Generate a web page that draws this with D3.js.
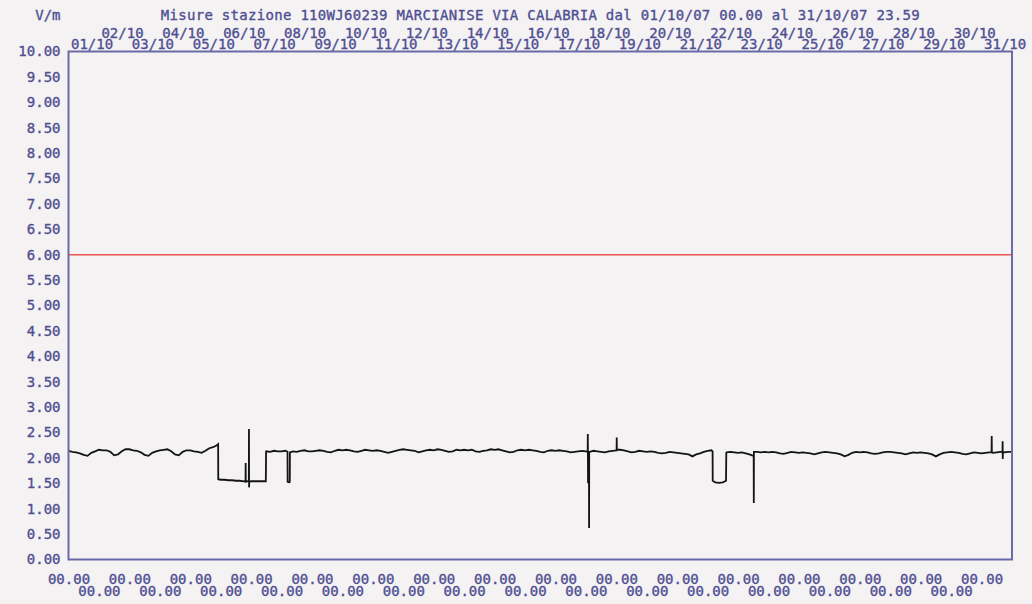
<!DOCTYPE html>
<html><head><meta charset="utf-8">
<script src="https://cdn.jsdelivr.net/npm/d3@7"></script>
<style>html,body{margin:0;padding:0;background:#f4f2f2;} svg{display:block;}</style>
</head><body><svg id="c" width="1032" height="604"></svg>
<script>
const chartTitle = "Misure stazione 110WJ60239 MARCIANISE VIA CALABRIA dal 01/10/07 00.00 al 31/10/07 23.59";
const unitLabel = "V/m";
const dayLabels = ["01/10","02/10","03/10","04/10","05/10","06/10","07/10","08/10","09/10","10/10",
  "11/10","12/10","13/10","14/10","15/10","16/10","17/10","18/10","19/10","20/10",
  "21/10","22/10","23/10","24/10","25/10","26/10","27/10","28/10","29/10","30/10","31/10"];
const hourLabel = "00.00";
const yTicks = [0,0.5,1,1.5,2,2.5,3,3.5,4,4.5,5,5.5,6,6.5,7,7.5,8,8.5,9,9.5,10];
const thresholdValue = 6.0;
const periodHours = 744;
const sampleStepHours = 3;
const sampleValues = [
  2.14,2.12,2.11,2.09,2.06,2.04,2.10,2.13,
  2.16,2.15,2.15,2.12,2.05,2.07,2.13,2.17,
  2.17,2.15,2.14,2.11,2.06,2.04,2.10,2.13,
  2.15,2.16,2.17,2.13,2.07,2.05,2.12,2.15,
  2.15,2.13,2.12,2.10,2.14,2.19,2.21,2.25,
  1.57,1.57,1.56,1.56,1.55,1.55,1.54,1.54,
  1.54,1.54,1.54,1.54,2.13,2.12,2.14,2.13,
  2.13,2.14,1.52,2.13,2.12,2.14,2.15,2.13,
  2.13,2.14,2.15,2.14,2.12,2.11,2.14,2.16,
  2.15,2.16,2.15,2.13,2.12,2.14,2.16,2.15,
  2.14,2.15,2.14,2.12,2.10,2.12,2.14,2.16,
  2.17,2.16,2.15,2.14,2.11,2.13,2.15,2.16,
  2.15,2.17,2.16,2.14,2.12,2.13,2.16,2.15,
  2.16,2.15,2.16,2.13,2.12,2.14,2.15,2.17,
  2.16,2.17,2.15,2.13,2.11,2.12,2.15,2.16,
  2.15,2.16,2.15,2.14,2.12,2.11,2.14,2.15,
  2.14,2.15,2.14,2.13,2.11,2.12,2.13,2.14,
  2.13,2.12,2.14,2.13,2.12,2.11,2.13,2.14,
  2.15,2.16,2.15,2.13,2.11,2.12,2.14,2.13,
  2.12,2.13,2.12,2.10,2.09,2.10,2.12,2.11,
  2.10,2.09,2.08,2.07,2.03,2.07,2.09,2.12,
  2.14,2.15,1.52,1.51,1.52,2.11,2.12,2.11,
  2.10,2.11,2.09,2.07,2.04,2.12,2.11,2.12,
  2.11,2.12,2.11,2.09,2.08,2.10,2.12,2.11,
  2.10,2.11,2.10,2.09,2.07,2.09,2.11,2.12,
  2.11,2.10,2.09,2.07,2.03,2.06,2.10,2.12,
  2.11,2.12,2.11,2.09,2.08,2.09,2.11,2.12,
  2.12,2.11,2.10,2.09,2.07,2.09,2.11,2.10,
  2.11,2.10,2.09,2.07,2.03,2.07,2.10,2.11,
  2.12,2.11,2.10,2.08,2.07,2.09,2.11,2.10,
  2.09,2.10,2.11,2.10,2.11,2.12,2.11,2.12,
  2.12
];
const eventHours = [118,118.1, 139.6,139.7,139.8, 142.2,142.3,142.4,142.5, 155.6,155.8,
  172.7,172.8,174.5,174.6, 409.4,409.5,409.7,409.9,410.4,410.5,410.6, 432.2,432.3,432.4,
  507.9,508.0,518.5,518.7, 540.3,540.4,540.5, 727.9,728.0,728.1, 736.5,736.6,736.7,736.8];
const eventValues = [2.27,1.58, 1.54,1.90,1.53, 1.53,2.57,1.42,1.53, 1.54,2.12,
  2.12,1.53,1.53,2.11, 2.12,2.47,1.50,2.12,2.10,0.62,2.12, 2.15,2.40,2.16,
  2.13,1.55,1.55,2.10, 2.05,1.11,2.12, 2.11,2.43,2.11, 2.12,2.33,1.98,2.12];

const textColor = "#4f4f92";
const frameColor = "#6a6aa8";
const font = "'DejaVu Sans Mono', monospace";

const svg = d3.select("#c");
svg.append("rect").attr("width",1032).attr("height",604).attr("fill","#f4f2f2");

const x = d3.scaleLinear().domain([0, periodHours]).range([68.5, 1012]);
const y = d3.scaleLinear().domain([0, 10]).range([559.5, 51.5]);

const pts = sampleValues.map((v,i)=>({h:i*sampleStepHours, v:v, o:0}))
  .concat(eventHours.map((h,i)=>({h:h, v:eventValues[i], o:1})));
pts.sort((a,b)=>a.h-b.h || a.o-b.o);

svg.append("line")
  .attr("x1", x(0)).attr("x2", x(periodHours))
  .attr("y1", y(thresholdValue)).attr("y2", y(thresholdValue))
  .attr("stroke", "#ec5552").attr("stroke-width", 1.6);

svg.append("path").datum(pts)
  .attr("d", d3.line().x(d=>x(d.h)).y(d=>y(d.v)))
  .attr("fill","none").attr("stroke","#141414").attr("stroke-width",1.8)
  .attr("stroke-linejoin","miter");

svg.append("rect")
  .attr("x", x(0)).attr("y", y(10))
  .attr("width", x(periodHours)-x(0)).attr("height", y(0)-y(10))
  .attr("fill","none").attr("stroke",frameColor).attr("stroke-width",2);

function styleAxis(g){
  g.select(".domain").remove();
  g.selectAll("line").remove();
  g.selectAll("text").attr("fill",textColor).attr("font-family",font)
    .attr("font-size","14px").attr("font-weight","normal")
    .attr("stroke",textColor).attr("stroke-width",0.35);
}

svg.append("g").attr("transform",`translate(${x(0)},0)`)
  .call(d3.axisLeft(y).tickValues(yTicks).tickFormat(d3.format(".2f")).tickSize(0).tickPadding(8))
  .call(styleAxis);

const oddDays = dayLabels.map((d,i)=>i).filter(i=>i%2===0);
const evenDays = dayLabels.map((d,i)=>i).filter(i=>i%2===1);
svg.append("g").attr("transform",`translate(0,${y(10)})`)
  .call(d3.axisTop(x).tickValues(oddDays.map(i=>i*24)).tickFormat(h=>dayLabels[Math.round(h/24)]).tickSize(0).tickPadding(3))
  .call(styleAxis)
  .selectAll("text").attr("text-anchor","start").attr("dx", 2);
svg.append("g").attr("transform",`translate(0,${y(10)-11})`)
  .call(d3.axisTop(x).tickValues(evenDays.map(i=>i*24)).tickFormat(h=>dayLabels[Math.round(h/24)]).tickSize(0).tickPadding(3))
  .call(styleAxis)
  .selectAll("text").attr("text-anchor","start").attr("dx", 2);

svg.append("g").attr("transform",`translate(0,${y(0)})`)
  .call(d3.axisBottom(x).tickValues(oddDays.map(i=>i*24)).tickFormat(()=>hourLabel).tickSize(0).tickPadding(15))
  .call(styleAxis);
svg.append("g").attr("transform",`translate(0,${y(0)})`)
  .call(d3.axisBottom(x).tickValues(evenDays.map(i=>i*24)).tickFormat(()=>hourLabel).tickSize(0).tickPadding(27))
  .call(styleAxis);

svg.append("text").attr("x", (x(0)+x(periodHours))/2).attr("y", 20)
  .attr("text-anchor","middle").attr("fill",textColor).attr("font-family",font)
  .attr("font-size","14px").attr("stroke",textColor).attr("stroke-width",0.35)
  .attr("textLength", 759).attr("lengthAdjust","spacing")
  .text(chartTitle);
svg.append("text").attr("x", x(0)-8).attr("y", 20)
  .attr("text-anchor","end").attr("fill",textColor).attr("font-family",font)
  .attr("font-size","14px").attr("stroke",textColor).attr("stroke-width",0.35)
  .text(unitLabel);
</script>
</body></html>
